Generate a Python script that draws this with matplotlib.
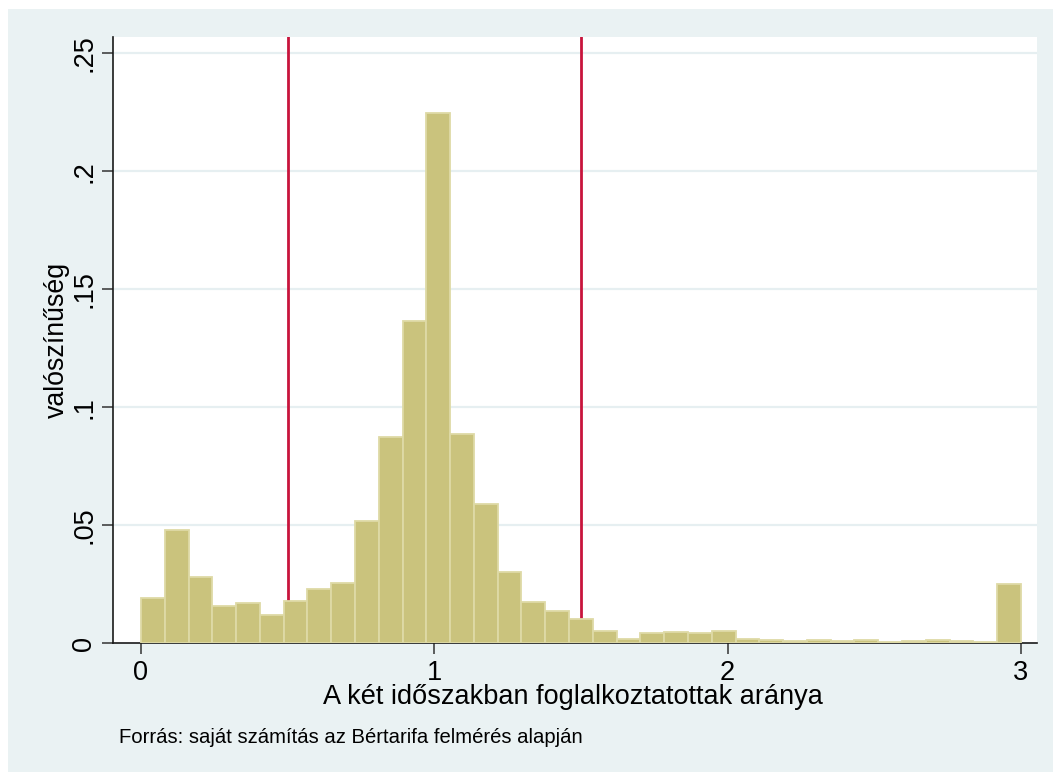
import matplotlib
matplotlib.use("Agg")
import matplotlib.pyplot as plt
from matplotlib.patches import Rectangle
import numpy as np

# ---- data ----
bin_lo = 0.0
bin_hi = 3.0
fractions = [0.019, 0.048, 0.028, 0.016, 0.017, 0.012, 0.018, 0.023, 0.0256, 0.052,
             0.0875, 0.1365, 0.2247, 0.0886, 0.0591, 0.0304, 0.0173, 0.0138, 0.0101, 0.005,
             0.002, 0.0042, 0.0048, 0.0042, 0.0053, 0.002, 0.0014, 0.0011, 0.0015, 0.0010,
             0.0012, 0.0004, 0.0010, 0.0013, 0.0010, 0.0004, 0.025]
ref_lines = [0.5, 1.5]
x_ticks = [0, 1, 2, 3]
x_ticklabels = ["0", "1", "2", "3"]
y_ticks = [0, 0.05, 0.1, 0.15, 0.2, 0.25]
y_ticklabels = ["0", ".05", ".1", ".15", ".2", ".25"]
x_title = "A két időszakban foglalkoztatottak aránya"
y_title = "valószínűség"
note = "Forrás: saját számítás az Bértarifa felmérés alapján"

W, H = 1053, 772
plt.rcParams['font.family'] = ['Liberation Sans', 'DejaVu Sans']
fig = plt.figure(figsize=(W / 100, H / 100), dpi=100, facecolor='white')
bg = '#EAF2F3'
fig.patches.append(Rectangle((8 / W, 0), 1 - 8 / W, 1 - 9 / H, transform=fig.transFigure,
                             facecolor=bg, edgecolor='none', zorder=-10))

L, R, T, B = 113.3, 1037.3, 36.7, 643.3
ax = fig.add_axes([L / W, 1 - B / H, (R - L) / W, (B - T) / H])
ax.set_zorder(1)
ax.set_facecolor('white')

nb = len(fractions)
width = (bin_hi - bin_lo) / nb
lefts = bin_lo + np.arange(nb) * width
ax.bar(lefts, fractions, width=width, align='edge', color='#CAC37D',
       edgecolor='#DEDAA6', linewidth=1.3, zorder=3)
for v in ref_lines:
    ax.axvline(v, color='#C8143C', linewidth=2.0, zorder=2)

ax.set_xlim(-0.0944, 3.056)
ax.set_ylim(0, 0.257)
ax.set_xticks(x_ticks)
ax.set_xticklabels(x_ticklabels)
ax.set_yticks(y_ticks)
ax.set_yticklabels(y_ticklabels, rotation=90, va='center')
for g in y_ticks[1:]:
    ax.axhline(g, color='#E6EFF1', linewidth=1.6, zorder=1)

for s in ['top', 'right']:
    ax.spines[s].set_visible(False)
for s in ['left', 'bottom']:
    ax.spines[s].set_color('#1a1a1a')
    ax.spines[s].set_linewidth(1.2)
ax.tick_params(axis='both', direction='out', length=8, width=1.1, color='#333333',
               labelsize=19.5, labelcolor='black')
ax.tick_params(axis='x', pad=3.7)
ax.tick_params(axis='y', pad=3.5)

ax.set_xlabel(x_title, fontsize=19.5, color='black')
ax.xaxis.set_label_coords(0.497, -0.0679)
ax.xaxis.label.set_va('top')
ax.set_ylabel(y_title, fontsize=19.3, color='black')
ax.yaxis.set_label_coords(-0.047, 0.5)

fig.text(119 / W, 1 - 742.7 / H, note, fontsize=14.6, ha='left', va='baseline', color='black')

fig.savefig('out.png', dpi=100, facecolor='white')
